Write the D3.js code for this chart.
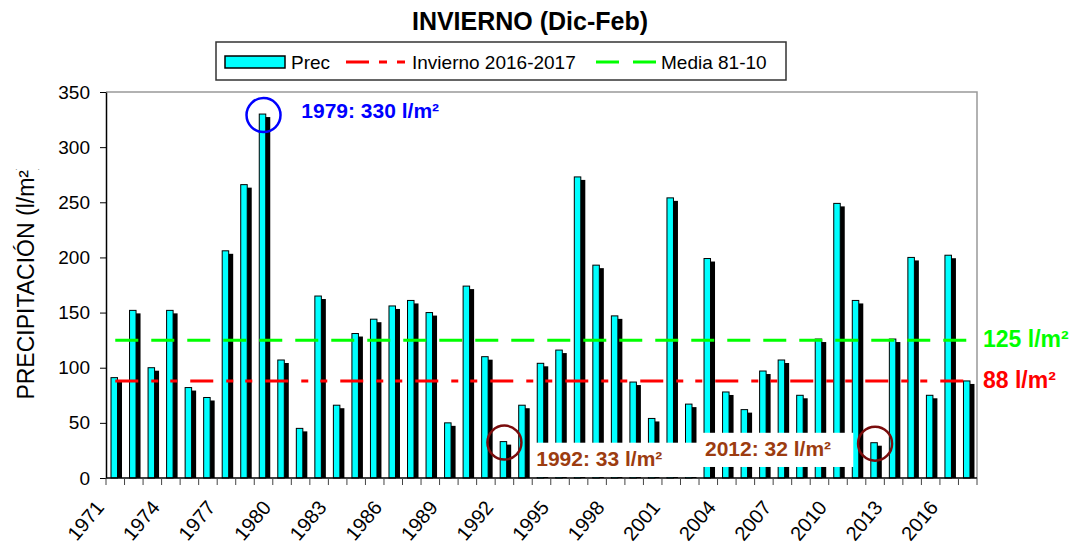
<!DOCTYPE html>
<html>
<head>
<meta charset="utf-8">
<script src="https://cdn.jsdelivr.net/npm/d3@7"></script>
<style>
	body { margin: 0; background: #fff; }
	text { font-family: "Liberation Sans", Arial, sans-serif; }
</style>
</head>
<body>
<div id="grafico"></div>
<script>
"use strict";

// datos : precipitación de invierno (dic-feb), l/m²
var anios = [1971, 1972, 1973, 1974, 1975, 1976, 1977, 1978, 1979, 1980,
	1981, 1982, 1983, 1984, 1985, 1986, 1987, 1988, 1989, 1990,
	1991, 1992, 1993, 1994, 1995, 1996, 1997, 1998, 1999, 2000,
	2001, 2002, 2003, 2004, 2005, 2006, 2007, 2008, 2009, 2010,
	2011, 2012, 2013, 2014, 2015, 2016, 2017];
var precipitacion = [91, 152, 100, 152, 82, 73, 206, 266, 330, 107,
	45, 165, 66, 131, 144, 156, 161, 150, 50, 174,
	110, 33, 66, 104, 116, 273, 193, 147, 87, 54,
	254, 67, 199, 78, 62, 97, 107, 75, 126, 249,
	161, 32, 126, 200, 75, 202, 88];
var inviernoActual = 88; // invierno 2016-2017
var media8110 = 125;
var etiquetasX = [1971, 1974, 1977, 1980, 1983, 1986, 1989, 1992, 1995, 1998, 2001, 2004, 2007, 2010, 2013, 2016];
var ticksY = [0, 50, 100, 150, 200, 250, 300, 350];
// años destacados : [año, valor, color del círculo]
var destacados = [[1979, 330, "#0000ff"], [1992, 33, "#7a0c0c"], [2012, 32, "#7a0c0c"]];

var W = 1071, H = 544,
	izq = 106, dch = 977, arr = 92, abj = 478;

var svg = d3.select("#grafico").append("svg")
	.attr("width", W)
	.attr("height", H);

var x = d3.scaleBand().domain(anios).range([izq, dch]);
var y = d3.scaleLinear().domain([0, 350]).range([abj, arr]);
var bw = x.bandwidth();
var datos = anios.map((a, i) => ({ anio: a, v: precipitacion[i] }));

// marco del área de trazado
svg.append("path")
	.attr("d", "M" + izq + "," + arr + "H" + dch + "V" + abj)
	.attr("fill", "none")
	.attr("stroke", "#999")
	.attr("stroke-width", 1.5);

// barras : sombra negra y luego la barra cian
var gBarras = svg.append("g");
gBarras.selectAll(".sombra")
	.data(datos)
	.enter().append("rect")
		.attr("class", "sombra")
		.attr("x", d => x(d.anio) + 0.27 * bw + 4.5)
		.attr("y", d => y(d.v) + 3)
		.attr("width", 6.5)
		.attr("height", d => abj - y(d.v) - 3)
		.attr("fill", "#000");
gBarras.selectAll(".barra")
	.data(datos)
	.enter().append("rect")
		.attr("class", "barra")
		.attr("x", d => x(d.anio) + 0.27 * bw)
		.attr("y", d => y(d.v))
		.attr("width", 6.5)
		.attr("height", d => abj - y(d.v))
		.attr("fill", "#00ffff")
		.attr("stroke", "#000")
		.attr("stroke-width", 1);

// líneas de referencia
var x0 = x(anios[0]) + bw / 2, x1 = x(anios[anios.length - 1]) + bw / 2;
svg.append("line")
	.attr("x1", x0).attr("x2", x1)
	.attr("y1", y(media8110)).attr("y2", y(media8110))
	.attr("stroke", "#00ff00")
	.attr("stroke-width", 3)
	.attr("stroke-dasharray", "23,13");
svg.append("line")
	.attr("x1", x0).attr("x2", x1)
	.attr("y1", y(inviernoActual)).attr("y2", y(inviernoActual))
	.attr("stroke", "#ff0000")
	.attr("stroke-width", 3)
	.attr("stroke-dasharray", "23,13,7,12,7,13");

// eje Y
var ejeY = svg.append("g")
	.attr("transform", "translate(" + izq + ",0)")
	.call(d3.axisLeft(y).tickValues(ticksY).tickSize(6).tickPadding(10).tickSizeOuter(0));
ejeY.select(".domain").attr("stroke", "#000").attr("stroke-width", 1.5);
ejeY.selectAll("line").attr("stroke", "#000");
ejeY.selectAll("text")
	.attr("font-size", 19)
	.attr("font-family", "Liberation Sans, Arial, sans-serif")
	.attr("fill", "#000");

// eje X : marcas entre categorías, etiquetas cada tres años
var gX = svg.append("g");
gX.append("line")
	.attr("x1", izq).attr("x2", dch)
	.attr("y1", abj).attr("y2", abj)
	.attr("stroke", "#000")
	.attr("stroke-width", 1.5);
gX.selectAll(".marca")
	.data(anios.concat(["fin"]))
	.enter().append("line")
		.attr("class", "marca")
		.attr("x1", d => d === "fin" ? dch : x(d))
		.attr("x2", d => d === "fin" ? dch : x(d))
		.attr("y1", abj)
		.attr("y2", abj + 7)
		.attr("stroke", "#444");
gX.selectAll(".etiq")
	.data(etiquetasX)
	.enter().append("text")
		.attr("class", "etiq")
		.attr("transform", d => "translate(" + (x(d) + bw / 2 - 10) + "," + (abj + 30) + ") rotate(-50)")
		.attr("text-anchor", "end")
		.attr("font-size", 20)
		.text(d => d);

// título del eje Y, recortado arriba como en el original
svg.append("clipPath")
	.attr("id", "recorte")
	.append("rect")
		.attr("x", 0).attr("y", 169)
		.attr("width", 60).attr("height", H - 169);
svg.append("g")
	.attr("clip-path", "url(#recorte)")
	.append("text")
		.attr("transform", "translate(34,281) rotate(-90)")
		.attr("text-anchor", "middle")
		.attr("font-size", 23)
		.text("PRECIPITACIÓN (l/m²)");

// título
svg.append("text")
	.attr("x", 530)
	.attr("y", 30)
	.attr("text-anchor", "middle")
	.attr("font-size", 25)
	.attr("font-weight", "bold")
	.text("INVIERNO (Dic-Feb)");

// leyenda
var ley = svg.append("g");
ley.append("rect")
	.attr("x", 216).attr("y", 42)
	.attr("width", 570).attr("height", 38)
	.attr("fill", "#fff")
	.attr("stroke", "#333")
	.attr("stroke-width", 1.5);
ley.append("rect")
	.attr("x", 225).attr("y", 56)
	.attr("width", 60).attr("height", 12)
	.attr("fill", "#00ffff")
	.attr("stroke", "#000")
	.attr("stroke-width", 1.5);
ley.append("line")
	.attr("x1", 346).attr("x2", 408)
	.attr("y1", 62).attr("y2", 62)
	.attr("stroke", "#ff0000")
	.attr("stroke-width", 3)
	.attr("stroke-dasharray", "23,10,8,10,8,30");
ley.append("line")
	.attr("x1", 596).attr("x2", 656)
	.attr("y1", 62).attr("y2", 62)
	.attr("stroke", "#00ff00")
	.attr("stroke-width", 3)
	.attr("stroke-dasharray", "23,14");
ley.selectAll(".tley")
	.data([["Prec", 291], ["Invierno 2016-2017", 412], ["Media 81-10", 661]])
	.enter().append("text")
		.attr("class", "tley")
		.attr("x", d => d[1])
		.attr("y", 69)
		.attr("font-size", 19)
		.text(d => d[0]);

// etiquetas de las líneas de referencia
svg.append("text")
	.attr("x", dch + 6).attr("y", y(media8110) + 7)
	.attr("font-size", 23).attr("font-weight", "bold")
	.attr("fill", "#00ff00")
	.text("125 l/m²");
svg.append("text")
	.attr("x", dch + 6).attr("y", y(inviernoActual) + 7)
	.attr("font-size", 23).attr("font-weight", "bold")
	.attr("fill", "#ff0000")
	.text("88 l/m²");

// anotaciones : cajas blancas con texto
svg.append("rect")
	.attr("x", x(1994) - 2).attr("y", y(32))
	.attr("width", x(2003) - x(1994) + 4).attr("height", abj - 1 - y(32))
	.attr("fill", "#fff");
svg.append("rect")
	.attr("x", x(2003) + 2).attr("y", y(41))
	.attr("width", x(2011) - x(2003) + 4).attr("height", y(10) - y(41))
	.attr("fill", "#fff");
svg.append("text")
	.attr("x", x(1994) + 4).attr("y", y(11))
	.attr("font-size", 21).attr("font-weight", "bold")
	.attr("fill", "#9c3c10")
	.text("1992: 33 l/m²");
svg.append("text")
	.attr("x", x(2003) + 6).attr("y", y(20))
	.attr("font-size", 21).attr("font-weight", "bold")
	.attr("fill", "#9c3c10")
	.text("2012: 32 l/m²");
svg.append("text")
	.attr("x", x(1981) + 10).attr("y", y(326))
	.attr("font-size", 21).attr("font-weight", "bold")
	.attr("fill", "#0000ff")
	.text("1979: 330 l/m²");

// círculos sobre los años destacados
svg.selectAll(".circulo")
	.data(destacados)
	.enter().append("circle")
		.attr("class", "circulo")
		.attr("cx", d => x(d[0]) + bw / 2)
		.attr("cy", d => y(d[1]) + 1)
		.attr("r", 17)
		.attr("fill", "none")
		.attr("stroke", d => d[2])
		.attr("stroke-width", 2.5);
</script>
</body>
</html>
